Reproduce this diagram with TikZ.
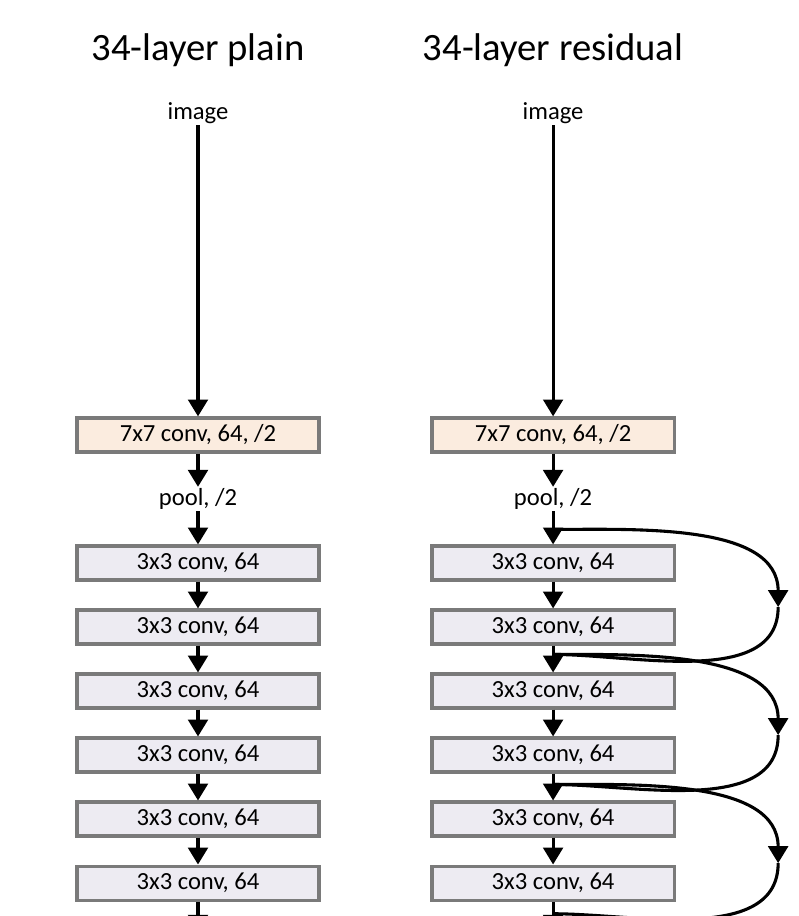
\documentclass[tikz,border=0pt]{standalone}
\usepackage{fontspec}
\setmainfont{Carlito}
\usepackage{tikz}
\usetikzlibrary{arrows.meta,positioning,calc}
\definecolor{boxgray}{HTML}{7A7A7A}
\definecolor{convpeach}{HTML}{FBECDF}
\definecolor{convlilac}{HTML}{EDEBF2}

\begin{document}
\begin{tikzpicture}[x=0.025cm,y=-0.025cm,
			node distance=1.6cm and 8.875cm, on grid,
			layer/.style={draw=boxgray,line width=2.3pt,fill=convlilac,minimum width=6.05cm,minimum height=0.85cm,inner sep=0pt,font=\fontsize{17.5}{20}\selectfont},
			first/.style={layer,fill=convpeach},
			lbl/.style={inner sep=1pt,font=\fontsize{17.5}{20}\selectfont},
			ttl/.style={font=\fontsize{27.5}{32}\selectfont},
			arr/.style={line width=2.2pt,-{Triangle[width=14pt,length=12pt]}},
			skip/.style={line width=2.2pt}
			]
			\useasboundingbox (0,0) rectangle (798,916);
			\clip (0,0) rectangle (798,916);
			% titles
			\node[ttl] (tplain) at (198,50) {34-layer plain};
			\node[ttl] (tres) [right=of tplain] {34-layer residual};
			% plain column
			\node[lbl] (pimg) at (198,113) {image};
			\node[first] (pc7) at (198,435) {7x7 conv, 64, /2};
			\node[lbl] (ppool) [below=of pc7] {pool, /2};
			\node[layer] (pb1) [below=of ppool] {3x3 conv, 64};
			\node[layer] (pb2) [below=of pb1] {3x3 conv, 64};
			\node[layer] (pb3) [below=of pb2] {3x3 conv, 64};
			\node[layer] (pb4) [below=of pb3] {3x3 conv, 64};
			\node[layer] (pb5) [below=of pb4] {3x3 conv, 64};
			\node[layer] (pb6) [below=of pb5] {3x3 conv, 64};
			\coordinate (pend) at ([yshift=-0.75cm]pb6.south);
			% residual column
			\node[lbl] (rimg) [right=of pimg] {image};
			\node[first] (rc7) [right=of pc7] {7x7 conv, 64, /2};
			\node[lbl] (rpool) [below=of rc7] {pool, /2};
			\node[layer] (rb1) [below=of rpool] {3x3 conv, 64};
			\node[layer] (rb2) [below=of rb1] {3x3 conv, 64};
			\node[layer] (rb3) [below=of rb2] {3x3 conv, 64};
			\node[layer] (rb4) [below=of rb3] {3x3 conv, 64};
			\node[layer] (rb5) [below=of rb4] {3x3 conv, 64};
			\node[layer] (rb6) [below=of rb5] {3x3 conv, 64};
			\coordinate (rend) at ([yshift=-0.75cm]rb6.south);
			\path
			(pimg) edge[arr] (pc7)
			(pc7) edge[arr] (ppool)
			(ppool) edge[arr] (pb1)
			(pb1) edge[arr] (pb2)
			(pb2) edge[arr] (pb3)
			(pb3) edge[arr] (pb4)
			(pb4) edge[arr] (pb5)
			(pb5) edge[arr] (pb6)
			(pb6) edge[arr] (pend);
			\path
			(rimg) edge[arr] (rc7)
			(rc7) edge[arr] (rpool)
			(rpool) edge[arr] (rb1)
			(rb1) edge[arr] (rb2)
			(rb2) edge[arr] (rb3)
			(rb3) edge[arr] (rb4)
			(rb4) edge[arr] (rb5)
			(rb5) edge[arr] (rb6)
			(rb6) edge[arr] (rend);
			% shortcut joins and turning points
			\coordinate (j0) at ([yshift=0.375cm]rb1.north);
			\coordinate (j1) at ([yshift=0.45cm]rb3.north);
			\coordinate (j2) at ([yshift=0.4cm]rb5.north);
			\coordinate (j3) at ([yshift=-0.3cm]rb6.south);
			\coordinate (a1) at ($(rb1)!0.5!(rb2)+(5.625cm,-0.3cm)$);
			\coordinate (a2) at ($(rb3)!0.5!(rb4)+(5.625cm,-0.3cm)$);
			\coordinate (a3) at ($(rb5)!0.5!(rb6)+(5.625cm,-0.3cm)$);
			\draw[arr] (j0) to[out=0,in=90,looseness=0.9] (a1);
			\draw[skip] (a1) to[out=-90,in=0,looseness=0.9] (j1);
			\draw[arr] (j1) to[out=0,in=90,looseness=0.9] (a2);
			\draw[skip] (a2) to[out=-90,in=0,looseness=0.9] (j2);
			\draw[arr] (j2) to[out=0,in=90,looseness=0.9] (a3);
			\draw[skip] (a3) to[out=-90,in=0,looseness=0.9] (j3);
		\end{tikzpicture}
\end{document}
